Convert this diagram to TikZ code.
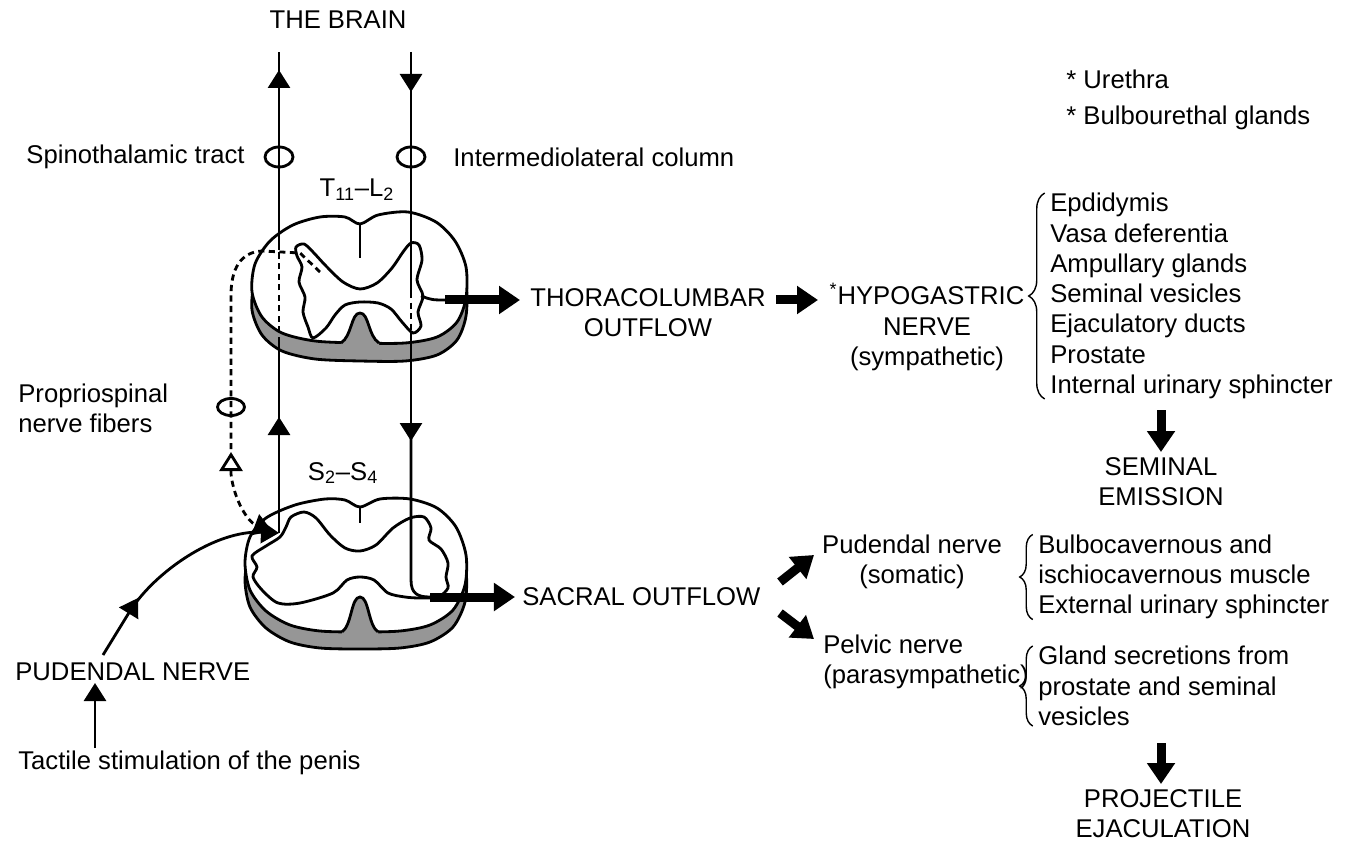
\documentclass[tikz,border=0pt]{standalone}
\usepackage{fontspec}
\setmainfont{Liberation Sans}
\usetikzlibrary{arrows.meta,decorations.pathreplacing,positioning}
\definecolor{cordgray}{RGB}{150,150,150}
\tikzset{
  lbl/.style={font=\fontsize{14.6}{17.2}\selectfont, inner sep=0pt},
  tract/.style={line width=1.6pt},
  dsh/.style={dash pattern=on 3.5pt off 2.5pt},
  trarrow/.style={-{Triangle[length=0.36cm,width=0.44cm]}},
  fat/.style={line width=0.18cm, -{Triangle[length=0.42cm,width=0.54cm]}},
  brc/.style={decorate, decoration={brace, amplitude=#1}, line width=0.8pt},
  brc/.default=0.32cm,
}
\begin{document}
\begin{tikzpicture}[x=.2mm,y=-.2mm]
\useasboundingbox (0,0) rectangle (1359,843);
% Upper cord (T11-L2): ventral rim, face, fissures, grey matter
\begin{scope}[shift={(0,18)}]
\filldraw[tract,fill=cordgray] plot[smooth cycle] coordinates {(345,217) (360,224) (378,215) (408,212) (436,222) (455,241) (466,267) (466,298) (457,322) (437,337) (405,343) (360,343) (315,341) (282,333) (262,317) (252,292) (255,264) (270,241) (293,225) (320,217)};
\end{scope}
\filldraw[tract,fill=white] plot[smooth cycle] coordinates {(345,217) (360,224) (378,215) (408,212) (436,222) (455,241) (466,267) (466,298) (457,322) (437,337) (405,343) (360,343) (315,341) (282,333) (262,317) (252,292) (255,264) (270,241) (293,225) (320,217)};
\fill[cordgray] (341,352) -- (341,343) .. controls (352,336) and (351,313) .. (360,313) .. controls (369,313) and (368,336) .. (379,343) -- (379,352) -- cycle;
\draw[tract] (341,343) .. controls (352,336) and (351,313) .. (360,313) .. controls (369,313) and (368,336) .. (379,343);
\draw[tract] (360,224) -- (360,258);
\draw[tract] plot[smooth cycle,tension=.5] coordinates {(296,247) (304,244) (313,252) (326,266) (343,282) (360,289) (377,283) (392,268) (403,252) (411,243) (419,245) (422,260) (417,280) (423,296) (418,312) (421,326) (413,333) (402,322) (391,309) (378,303) (360,302) (345,305) (335,315) (326,328) (313,338) (308,327) (303,312) (305,297) (299,282) (302,267) (297,256)};
\draw[tract] (421,296) .. controls (432,300) .. (447,300);
% Lower cord (S2-S4)
\begin{scope}[shift={(0,17)}]
\filldraw[tract,fill=cordgray] plot[smooth cycle] coordinates {(345,500) (360,507) (380,499) (410,499) (437,508) (456,527) (466,555) (465,585) (453,610) (430,625) (400,631) (360,632) (320,631) (290,625) (266,611) (250,590) (245,563) (250,537) (266,518) (295,505) (325,499)};
\end{scope}
\filldraw[tract,fill=white] plot[smooth cycle] coordinates {(345,500) (360,507) (380,499) (410,499) (437,508) (456,527) (466,555) (465,585) (453,610) (430,625) (400,631) (360,632) (320,631) (290,625) (266,611) (250,590) (245,563) (250,537) (266,518) (295,505) (325,499)};
\fill[cordgray] (342,641) -- (342,632) .. controls (352,625) and (351,597) .. (360,597) .. controls (369,597) and (368,625) .. (378,632) -- (378,641) -- cycle;
\draw[tract] (342,632) .. controls (352,625) and (351,597) .. (360,597) .. controls (369,597) and (368,625) .. (378,632);
\draw[tract] (360,507) -- (360,523);
\draw[tract] plot[smooth cycle,tension=.5] coordinates {(291,517) (304,512) (316,518) (330,535) (345,548) (360,551) (376,545) (393,528) (410,518) (424,517) (431,528) (429,540) (441,549) (448,563) (446,577) (448,588) (438,597) (420,598) (405,597) (388,593) (374,580) (360,577) (347,580) (333,593) (300,603) (278,603) (262,590) (253,577) (257,567) (252,556) (266,546) (280,537) (286,527)};
% Labels on the left
\node[lbl] (brain) at (338,20) {THE BRAIN};
\node[lbl,anchor=east] (spino) at (245,157) {Spinothalamic tract};
\node[lbl,anchor=west] (interm) at (453,157) {Intermediolateral column};
\node[lbl] (tl) at (357,190) {T\textsubscript{11}--L\textsubscript{2}};
\node[lbl] (ss) at (343,473) {S\textsubscript{2}--S\textsubscript{4}};
\node[lbl,anchor=west,align=left] (proprio) at (18,408) {Propriospinal\\nerve fibers};
\node[lbl,anchor=west] (pudN) at (15,672) {PUDENDAL NERVE};
\node[lbl,anchor=west] (tactile) at (18,763) {Tactile stimulation of the penis};
% Ascending tract
\coordinate (s-entry) at (279,533);
\draw[tract,trarrow] (s-entry) -- (279,417);
\draw[tract] (279,425) -- (279,343);
\draw[tract,dsh] (279,343) -- (279,250);
\draw[tract,trarrow] (279,250) -- (279,70);
\draw[tract] (279,75) -- (279,52);
\draw[tract] (279,157) ellipse [x radius=.28cm, y radius=.2cm];
% Descending tract
\coordinate (s-out) at (430,597);
\draw[tract,trarrow] (411,52) -- (411,92);
\draw[tract] (411,90) -- (411,292);
\draw[tract,dsh] (411,292) -- (411,332);
\draw[tract,trarrow] (411,332) -- (411,441);
\draw[tract] (411,438) -- (411,580) .. controls (411,594) and (418,597) .. (s-out);
\draw[tract] (411,157) ellipse [x radius=.28cm, y radius=.2cm];
% Propriospinal fibers
\draw[tract,dsh] (320,272) -- (300,253) -- (262,251) .. controls (240,252) and (231,270) .. (231,295) -- (231,452);
\draw[tract] (231,407) ellipse [x radius=.27cm, y radius=.17cm];
\draw[tract,dsh,{Triangle[open,length=0.38cm,width=0.46cm]}-{Triangle[length=0.36cm,width=0.44cm]}] (231,452) -- (231,474) .. controls (234,500) and (248,522) .. (272,531);
% Pudendal input
\coordinate (pud-start) at (103,655);
\coordinate (tac-start) at (95,748);
\draw[tract,trarrow] (pud-start) -- (138,598);
\draw[tract,trarrow] (130,611) .. controls (155,572) and (215,530) .. (s-entry);
\draw[tract,trarrow] (tac-start) -- (95,683);
% Thoracolumbar outflow
\coordinate (t-out) at (445,300);
\coordinate (tho-arrow) at (776,300);
\node[lbl,align=center] (thoraco) at (648,313) {THORACOLUMBAR\\OUTFLOW};
\draw[fat] (t-out) -- (520,300);
\node[lbl,align=center] (hypo) at (927,327) {\textsuperscript{*}HYPOGASTRIC\\NERVE\\(sympathetic)};
\draw[fat] (tho-arrow) -- (818,300);
\node[lbl,anchor=west,align=left] (hypoList) at (1050,296) {Epdidymis\\Vasa deferentia\\Ampullary glands\\Seminal vesicles\\Ejaculatory ducts\\Prostate\\Internal urinary sphincter};
\draw[brc] ([xshift=-3pt]hypoList.south west) -- ([xshift=-3pt]hypoList.north west);
\coordinate (em-top) at (1161,410);
\coordinate (em-tip) at (1161,452);
\draw[fat] (em-top) -- (em-tip);
\node[lbl,align=center,below=3pt of em-tip] (emission) {SEMINAL\\EMISSION};
% Sacral outflow
\node[lbl,anchor=west] (sacral) at (522,597) {SACRAL OUTFLOW};
\draw[fat] (s-out) -- ([xshift=-4pt]sacral.west);
\coordinate (pud-arrow) at (780,582);
\coordinate (pel-arrow) at (780,613);
\node[lbl,align=center] (pudendal) at (912,562) {Pudendal nerve\\(somatic)};
\node[lbl,anchor=west,align=left] (pelvic) at (823,662) {Pelvic nerve\\(parasympathetic)};
\draw[fat] (pud-arrow) -- (814,555);
\draw[fat] (pel-arrow) -- (814,639);
\node[lbl,anchor=west,align=left] (pudList) at (1038,577) {Bulbocavernous and\\ischiocavernous muscle\\External urinary sphincter};
\node[lbl,anchor=west,align=left] (pelvicList) at (1038,686) {Gland secretions from\\prostate and seminal\\vesicles};
\draw[brc=0.26cm] ([xshift=-3pt]pudList.south west) -- ([xshift=-3pt]pudList.north west);
\draw[brc=0.26cm] ([xshift=-3pt]pelvicList.south west) -- ([xshift=-3pt]pelvicList.north west);
\coordinate (pr-top) at (1161,743);
\coordinate (pr-tip) at (1161,784);
\draw[fat] (pr-top) -- (pr-tip);
\node[lbl,align=center] (projectile) at (1163,814) {PROJECTILE\\EJACULATION};
% Notes
\node[lbl,anchor=west] (urethra) at (1066,79) {* Urethra};
\node[lbl,anchor=west] (bulbo) at (1066,118) {* Bulbourethal glands};
\end{tikzpicture}
\end{document}
